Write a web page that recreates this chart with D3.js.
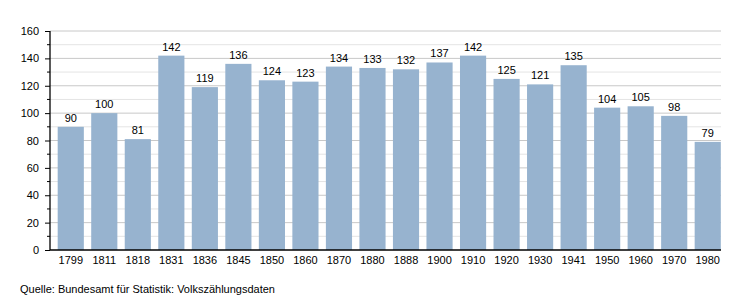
<!DOCTYPE html>
<html>
<head>
<meta charset="utf-8">
<script src="https://cdn.jsdelivr.net/npm/d3@7"></script>
<style>
  body { margin: 0; background: #fff; }
  svg text { font-family: "Liberation Sans", Arial, sans-serif; fill: #000; }
</style>
</head>
<body>
<svg width="750" height="300"></svg>
<script>
var years = ["1799", "1811", "1818", "1831", "1836", "1845", "1850", "1860", "1870", "1880",
             "1888", "1900", "1910", "1920", "1930", "1941", "1950", "1960", "1970", "1980"];
var einwohner = [90, 100, 81, 142, 119, 136, 124, 123, 134, 133,
                 132, 137, 142, 125, 121, 135, 104, 105, 98, 79];
var majorTicks = [0, 20, 40, 60, 80, 100, 120, 140, 160];
var minorTicks = [10, 30, 50, 70, 90, 110, 130, 150];
var quelle = "Quelle: Bundesamt für Statistik: Volkszählungsdaten";

var svg = d3.select("svg");
var x0 = 50, x1 = 721, yTop = 31, yBot = 250;

var scX = d3.scaleBand()
    .domain(years)
    .range([54, 724.5])
    .paddingInner(0.22)
    .paddingOuter(0.11);
var scY = d3.scaleLinear()
    .domain([0, 160])
    .range([yBot, yTop]);

// gridlines
svg.append("g").selectAll("line")
    .data(minorTicks)
    .enter()
    .append("line")
    .attr("x1", x0).attr("x2", x1)
    .attr("y1", d => scY(d)).attr("y2", d => scY(d))
    .attr("stroke", "#e4e4e4").attr("stroke-width", 1);

svg.append("g").selectAll("line")
    .data(majorTicks.filter(d => d > 0))
    .enter()
    .append("line")
    .attr("x1", x0).attr("x2", x1)
    .attr("y1", d => scY(d)).attr("y2", d => scY(d))
    .attr("stroke", "#c8c8c8").attr("stroke-width", 1);

// bars
svg.selectAll("rect.bar")
    .data(einwohner)
    .enter()
    .append("rect")
    .attr("class", "bar")
    .attr("x", (d, i) => scX(years[i]))
    .attr("width", scX.bandwidth())
    .attr("y", d => scY(d))
    .attr("height", d => scY(0) - scY(d))
    .attr("fill", "#97b3cf");

// value labels
svg.selectAll("text.val")
    .data(einwohner)
    .enter()
    .append("text")
    .attr("class", "val")
    .attr("x", (d, i) => scX(years[i]) + scX.bandwidth() / 2)
    .attr("y", d => scY(d) - 5)
    .attr("text-anchor", "middle")
    .attr("font-size", 11)
    .text(d => d);

// y axis
var yAxis = svg.append("g")
    .attr("transform", "translate(" + x0 + ",0)")
    .call(d3.axisLeft(scY).tickValues(majorTicks).tickSize(5).tickPadding(6));
yAxis.selectAll("text").attr("font-size", 11).attr("font-family", "Liberation Sans, Arial, sans-serif");
yAxis.select(".domain").remove();

svg.append("g").selectAll("line")
    .data(minorTicks)
    .enter()
    .append("line")
    .attr("x1", x0 - 3).attr("x2", x0)
    .attr("y1", d => scY(d)).attr("y2", d => scY(d))
    .attr("stroke", "#000");

svg.append("line")
    .attr("x1", x0).attr("x2", x0)
    .attr("y1", yTop).attr("y2", yBot)
    .attr("stroke", "#000").attr("stroke-width", 1.3);

// x axis
var xAxis = svg.append("g")
    .attr("transform", "translate(0," + yBot + ")")
    .call(d3.axisBottom(scX).tickSize(0).tickPadding(6));
xAxis.selectAll("text").attr("font-size", 11).attr("font-family", "Liberation Sans, Arial, sans-serif");
xAxis.select(".domain").remove();

svg.append("line")
    .attr("x1", x0).attr("x2", x1)
    .attr("y1", yBot).attr("y2", yBot)
    .attr("stroke", "#000").attr("stroke-width", 1.3);

svg.append("text")
    .attr("x", 20)
    .attr("y", 293)
    .attr("font-size", 11)
    .text(quelle);
</script>
</body>
</html>
